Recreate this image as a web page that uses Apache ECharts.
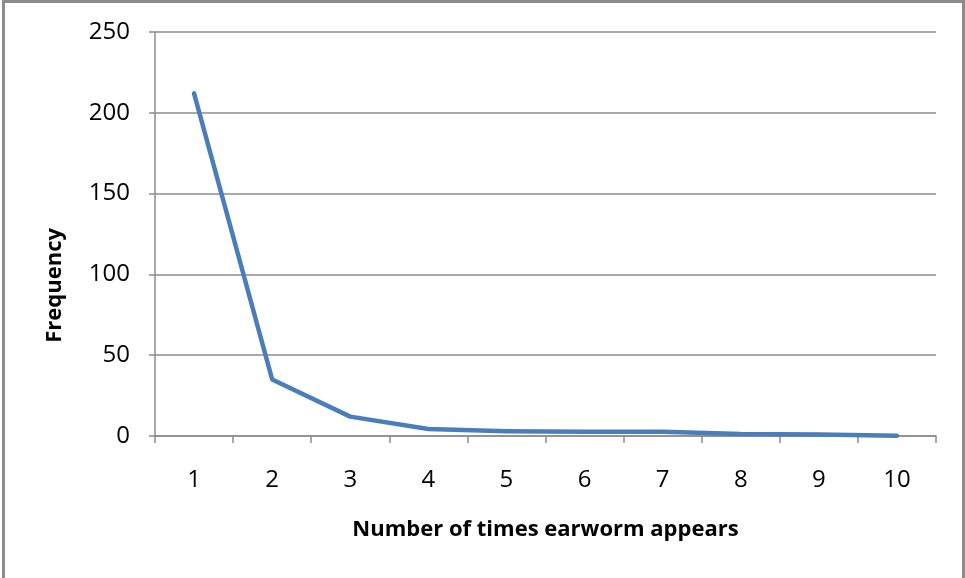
<!DOCTYPE html>
<html><head><meta charset="utf-8">
<script src="https://cdn.jsdelivr.net/npm/echarts@6/dist/echarts.min.js"></script>
<style>
html,body{margin:0;padding:0;background:#fff;overflow:hidden;}
#frame{position:absolute;left:2px;top:0px;width:963px;height:600px;border:3px solid #8c8c8c;box-sizing:border-box;}
#c{position:absolute;left:0;top:0;width:965px;height:578px;}
</style></head>
<body>
<div id="frame"></div>
<div id="c"></div>
<script>
const categories = ['1','2','3','4','5','6','7','8','9','10'];
const frequency = [212, 35, 12, 4.3, 3, 2.7, 2.7, 1.2, 1, 0.2];
const yTicks = {min:0, max:250, interval:50};
const xTitle = 'Number of times earworm appears';
const yTitle = 'Frequency';
const chart = echarts.init(document.getElementById('c'), null, {renderer:'canvas'});
const font = '"Open Sans", "Noto Sans", sans-serif';
chart.setOption({
  animation:false,
  grid:{left:155, right:29, top:32, bottom:142},
  graphic:[{type:'text', left:44, top:228, rotation:Math.PI/2,
    style:{text:yTitle, fontFamily:font, fontSize:22, fontWeight:'bold', fill:'#000'}}],
  xAxis:{type:'category', data:categories, boundaryGap:true,
    name:xTitle, nameLocation:'middle', nameGap:83,
    nameTextStyle:{fontFamily:font, fontSize:22, fontWeight:'bold', color:'#000'},
    axisLine:{lineStyle:{color:'#8c8c8c', width:1.5}},
    axisTick:{show:true, length:7, lineStyle:{color:'#8c8c8c', width:1.5}},
    axisLabel:{fontFamily:font, fontSize:24, color:'#000', margin:32}},
  yAxis:{type:'value', min:yTicks.min, max:yTicks.max, interval:yTicks.interval,
    axisLine:{show:true, lineStyle:{color:'#8c8c8c', width:1.5}},
    axisTick:{show:true, length:6, lineStyle:{color:'#8c8c8c', width:1.5}},
    axisLabel:{fontFamily:font, fontSize:24, color:'#000', margin:25},
    splitLine:{lineStyle:{color:'#8c8c8c', width:1.5}}},
  series:[{type:'line', data:frequency, symbol:'none',
    lineStyle:{color:'#4a7ebb', width:4.5, cap:'round', join:'round'}}]
});
</script>
</body></html>
